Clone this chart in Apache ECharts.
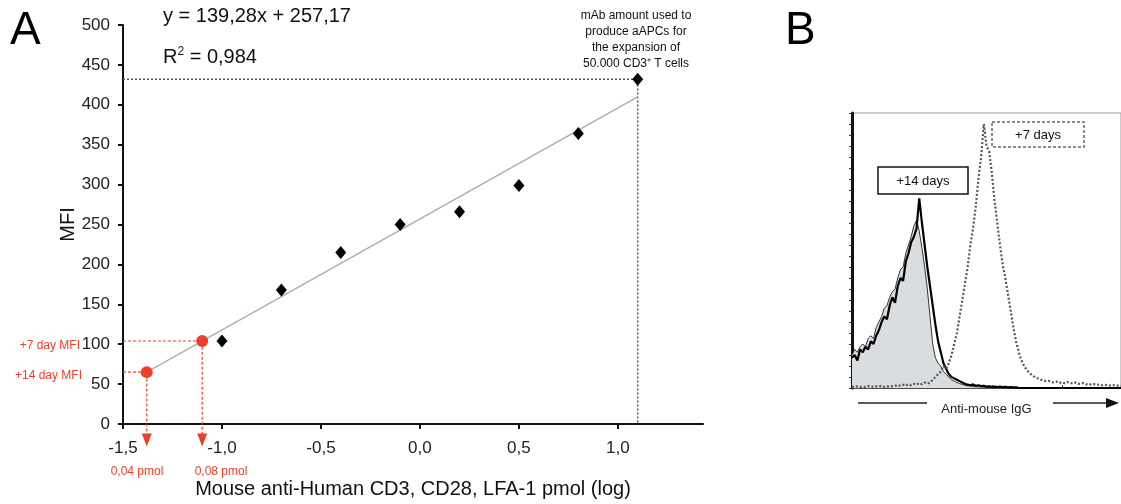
<!DOCTYPE html>
<html>
<head>
<meta charset="utf-8">
<script src="https://cdn.jsdelivr.net/npm/echarts@6/dist/echarts.min.js"></script>
<style>
html,body{margin:0;padding:0;background:#fff;}
#main{width:1121px;height:504px;}
</style>
</head>
<body>
<div id="main"></div>
<script>
// panel A: titration curve
var doseLog = [-1.0, -0.7, -0.4, -0.1, 0.2, 0.5, 0.8, 1.1];
var mfi = [104, 168, 215, 250, 266, 299, 364, 432];
var fitX = [-1.38, 1.1];
var fitY = [65, 410];
var day14 = [-1.38, 65];
var day7 = [-1.1, 104];
var xTicks = ['-1,5', '-1,0', '-0,5', '0,0', '0,5', '1,0'];

// panel B: histograms, channel 0..100
var chan = [];
for (var c = 0; c <= 100; c++) chan.push(c);
var isotype = [12,14,13,15,16,15,18,19,18,22,24,26,29,30,33,35,36,40,43,44,49,52,55,59,61,57,51,44,36,26,16,11,9,8,6,5,4,3,2.5,2,1.6,1.3,1,0.8,0.7,0.5,0.5,0.4,0.4,0.3,0.3,0.3,0.2,0.2,0.2,0.2,0,0,0,0,0,0,0,0,0,0,0,0,0,0,0,0,0,0,0,0,0,0,0,0,0,0,0,0,0,0,0,0,0,0,0,0,0,0,0,0,0,0,0,0,0];
var plus14 = [11,12,10,14,13,15,14,17,16,19,21,24,26,25,30,33,31,37,40,39,46,49,53,55,58,69,60,52,44,37,30,23,17,13,9,7,5,4,3.5,3,2.5,2,1.5,1.2,1,1.3,0.8,1,0.7,0.8,0.5,0.6,0.4,0.5,0.3,0.5,0.3,0.4,0.2,0.3,0.2,0.2,0,0,0,0,0,0,0,0,0,0,0,0,0,0,0,0,0,0,0,0,0,0,0,0,0,0,0,0,0,0,0,0,0,0,0,0,0,0,0];
var plus7 = [0.5,0.3,0.6,0.4,0.5,0.3,0.7,0.5,0.4,0.6,0.5,0.8,0.4,0.6,0.5,0.7,0.9,0.6,1,1.2,0.8,1.4,1,1.5,1.2,1.8,1.4,2,1.6,2,3,4,5,6,8,7,9,12,16,20,26,32,38,44,52,58,66,76,84,96,88,86,78,68,60,52,45,40,34,28,22,17,13,10,8,6.5,5.5,4.5,4,3.5,3,2.8,2.5,2.6,2.2,2,2.3,1.8,2.1,1.7,2.2,1.9,1.6,2,1.5,1.6,1.8,1.3,1.5,1.2,1.4,1.1,1.3,1,1.2,1,0.9,1.1,0.8,0.9,0.8];

var red = '#e8432a';
var font = 'Liberation Sans, Arial, sans-serif';

function pairs(xs, ys) {
    var out = [];
    for (var i = 0; i < xs.length; i++) out.push([xs[i], ys[i]]);
    return out;
}

var myChart = echarts.init(document.getElementById('main'));
myChart.setOption({
    animation: false,
    textStyle: {fontFamily: font},
    grid: [
        {left: 123, top: 25, width: 580, height: 400},
        {left: 852, top: 113, width: 272, height: 275, show: true, borderColor: '#999', borderWidth: 1, backgroundColor: 'transparent'}
    ],
    xAxis: [
        {
            gridIndex: 0, type: 'value', min: -1.5, max: 1.43, interval: 0.5,
            name: 'Mouse anti-Human CD3, CD28, LFA-1 pmol (log)',
            nameLocation: 'middle', nameGap: 55,
            nameTextStyle: {fontSize: 20, color: '#111', fontFamily: font},
            axisLine: {onZero: false, lineStyle: {color: '#111', width: 2}},
            axisTick: {length: 5, lineStyle: {color: '#111', width: 2}},
            axisLabel: {
                fontSize: 17, color: '#222', margin: 16, showMaxLabel: false,
                formatter: function (v) {
                    var i = Math.round((v + 1.5) / 0.5);
                    return xTicks[i] || '';
                }
            },
            splitLine: {show: false}
        },
        {
            gridIndex: 1, type: 'value', min: 0, max: 100, interval: 26,
            name: 'Anti-mouse IgG', nameLocation: 'middle', nameGap: 15,
            nameTextStyle: {fontSize: 13, color: '#222', fontFamily: font},
            axisLine: {onZero: false, lineStyle: {color: '#222', width: 1.5}},
            axisTick: {length: 3, inside: true, lineStyle: {color: '#444'}},
            axisLabel: {show: false},
            splitLine: {show: false}
        }
    ],
    yAxis: [
        {
            gridIndex: 0, type: 'value', min: 0, max: 500, interval: 50,
            name: 'MFI', nameLocation: 'middle', nameGap: 45, nameRotate: 90,
            nameMoveOverlap: false,
            nameTextStyle: {fontSize: 20, color: '#111', fontFamily: font},
            axisLine: {onZero: false, lineStyle: {color: '#111', width: 2}},
            axisTick: {length: 5, lineStyle: {color: '#111', width: 2}},
            axisLabel: {fontSize: 17, color: '#222', margin: 13},
            splitLine: {show: false}
        },
        {
            gridIndex: 1, type: 'value', min: 0, max: 100, interval: 4,
            axisLine: {onZero: false, lineStyle: {color: '#111', width: 3}},
            axisTick: {length: 3, lineStyle: {color: '#333', width: 1}},
            axisLabel: {show: false},
            splitLine: {show: false}
        }
    ],
    series: [
        {
            name: 'fit', type: 'line', xAxisIndex: 0, yAxisIndex: 0,
            data: pairs(fitX, fitY), showSymbol: false, symbol: 'none',
            lineStyle: {color: '#b9aaa3', width: 1.5}, z: 2
        },
        {
            name: 'guide', type: 'line', xAxisIndex: 0, yAxisIndex: 0,
            data: [[-1.5, mfi[7]], [doseLog[7], mfi[7]], [doseLog[7], 0]],
            symbol: 'none', lineStyle: {color: '#555', width: 1.5, type: [2, 2]}, z: 1
        },
        {
            name: 'guide14', type: 'line', xAxisIndex: 0, yAxisIndex: 0, clip: false,
            data: [[-1.5, day14[1]], [day14[0], day14[1]], [day14[0], -13]],
            symbol: 'none', lineStyle: {color: red, width: 1.2, type: [3, 2]}, z: 1
        },
        {
            name: 'guide7', type: 'line', xAxisIndex: 0, yAxisIndex: 0, clip: false,
            data: [[-1.5, day7[1]], [day7[0], day7[1]], [day7[0], -13]],
            symbol: 'none', lineStyle: {color: red, width: 1.2, type: [3, 2]}, z: 1
        },
        {
            name: 'arrows', type: 'scatter', xAxisIndex: 0, yAxisIndex: 0, clip: false,
            data: [[day14[0], -20], [day7[0], -20]],
            symbol: 'triangle', symbolRotate: 180, symbolSize: [10, 13],
            itemStyle: {color: red, opacity: 1}, z: 3
        },
        {
            name: 'MFI', type: 'scatter', xAxisIndex: 0, yAxisIndex: 0,
            data: pairs(doseLog, mfi), symbol: 'diamond', symbolSize: [11, 13],
            itemStyle: {color: '#000', opacity: 1}, z: 4
        },
        {
            name: 'days', type: 'scatter', xAxisIndex: 0, yAxisIndex: 0,
            data: [day14, day7], symbol: 'circle', symbolSize: 12,
            itemStyle: {color: red, opacity: 1}, z: 4
        },
        {
            name: 'isotype', type: 'line', xAxisIndex: 1, yAxisIndex: 1,
            data: pairs(chan, isotype), symbol: 'none',
            lineStyle: {color: '#333', width: 1},
            areaStyle: {color: '#dadde0', opacity: 1}, z: 2
        },
        {
            name: '+14 days', type: 'line', xAxisIndex: 1, yAxisIndex: 1,
            data: pairs(chan, plus14), symbol: 'none',
            lineStyle: {color: '#000', width: 2.2}, z: 3
        },
        {
            name: '+7 days', type: 'line', xAxisIndex: 1, yAxisIndex: 1,
            data: pairs(chan, plus7), symbol: 'none',
            lineStyle: {color: '#555', width: 2.2, type: [2, 2]}, z: 3
        }
    ],
    graphic: [
        {type: 'text', left: 10, top: 8, style: {text: 'A', font: '46px ' + font, fill: '#000'}},
        {type: 'text', left: 785, top: 8, style: {text: 'B', font: '46px ' + font, fill: '#000'}},
        {type: 'text', left: 163, top: 6, style: {text: 'y = 139,28x + 257,17', font: '20px ' + font, fill: '#111'}},
        {type: 'text', left: 163, top: 46, style: {rich: {n: {fontSize: 20, fontFamily: font, fill: '#111'}, s: {fontSize: 12, fontFamily: font, verticalAlign: 'top', fill: '#111', padding: [0, 0, 10, 0]}}, text: '{n|R}{s|2}{n| = 0,984}'}},
        {type: 'text', x: 636, y: 8, style: {text: 'mAb amount used to\nproduce aAPCs for\nthe expansion of\n50.000 CD3\u207A T cells', font: '12px ' + font, fill: '#111', align: 'center', lineHeight: 16}},
        {type: 'text', x: 80, y: 346, style: {text: '+7 day MFI', font: '12px ' + font, fill: red, align: 'right', verticalAlign: 'middle'}},
        {type: 'text', x: 82, y: 376, style: {text: '+14 day MFI', font: '12px ' + font, fill: red, align: 'right', verticalAlign: 'middle'}},
        {type: 'text', x: 137, y: 472, style: {text: '0,04 pmol', font: '12px ' + font, fill: red, align: 'center', verticalAlign: 'middle'}},
        {type: 'text', x: 221, y: 472, style: {text: '0,08 pmol', font: '12px ' + font, fill: red, align: 'center', verticalAlign: 'middle'}},
        {type: 'rect', shape: {x: 878, y: 167, width: 90, height: 27}, style: {fill: '#fff', stroke: '#111', lineWidth: 1.5}, z: 10},
        {type: 'text', x: 923, y: 181, z: 11, style: {text: '+14 days', font: '13px ' + font, fill: '#111', align: 'center', verticalAlign: 'middle'}},
        {type: 'rect', shape: {x: 992, y: 122, width: 92, height: 25}, style: {fill: '#fff', stroke: '#666', lineWidth: 1.5, lineDash: [3, 2]}, z: 10},
        {type: 'text', x: 1038, y: 135, z: 11, style: {text: '+7 days', font: '13px ' + font, fill: '#111', align: 'center', verticalAlign: 'middle'}},
        {type: 'line', shape: {x1: 858, y1: 403, x2: 927, y2: 403}, style: {stroke: '#222', lineWidth: 1.5}},
        {type: 'line', shape: {x1: 1053, y1: 403, x2: 1108, y2: 403}, style: {stroke: '#222', lineWidth: 1.5}},
        {type: 'polygon', shape: {points: [[1106, 398], [1119, 403], [1106, 408]]}, style: {fill: '#111'}}
    ]
});
</script>
</body>
</html>
